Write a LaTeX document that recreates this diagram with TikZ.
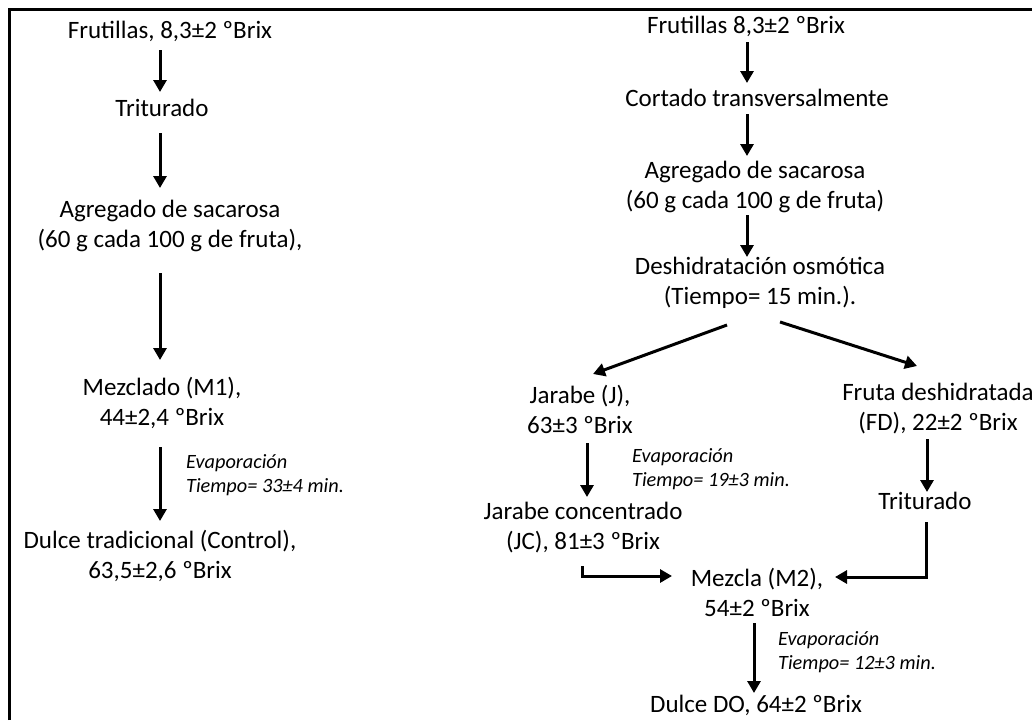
\documentclass[tikz,border=0pt]{standalone}
\usepackage{fontspec}
\setmainfont{Carlito}
\usetikzlibrary{arrows.meta,calc}

\tikzset{
  paso/.style={font=\fontsize{25}{30}\selectfont, align=center, inner sep=0pt},
  nota/.style={font=\fontsize{20.3}{24}\selectfont\itshape, align=left, anchor=west, inner sep=0pt},
  flecha/.style={line width=3pt, -{Triangle[length=12pt,width=13pt]}},
}

\begin{document}
\begin{tikzpicture}[x=1pt,y=-1pt]
    \useasboundingbox (0,0) rectangle (1032,720);
    % marco:
    \draw [line width=3pt] (9.5,720) -- (9.5,9.5) -- (1032,9.5);
    % dulce tradicional:
    \node [paso] (fl1) at (170,31) {Frutillas, 8,3±2 ºBrix};
    \node [paso] (tri1) at (162,108) {Triturado};
    \node [paso] (ag1) at (170,226) {Agregado de sacarosa\\(60 g cada 100 g de fruta),};
    \node [paso] (mez1) at (162,403) {Mezclado (M1),\\44±2,4 ºBrix};
    \node [paso] (dul1) at (160,556) {Dulce tradicional (Control),\\63,5±2,6 ºBrix};
    \node [nota] (ev1) at (186,475) {Evaporación\\Tiempo= 33±4 min.};
    \draw [flecha] ($(fl1)+(-10,19)$) -- ($(tri1)+(-2,-16)$);
    \draw [flecha] ($(tri1)+(-2,25)$) -- ($(ag1)+(-10,-38)$);
    \draw [flecha] ($(ag1)+(-10,47)$) -- ($(mez1)+(-2,-43)$);
    \draw [flecha] ($(mez1)+(-2,44)$) -- ($(dul1)+(0,-35)$);
    % dulce DO:
    \node [paso] (fr2) at (746,26) {Frutillas 8,3±2 ºBrix};
    \node [paso] (cor2) at (757,98) {Cortado transversalmente};
    \node [paso] (ag2) at (755,187) {Agregado de sacarosa\\(60 g cada 100 g de fruta)};
    \node [paso] (des2) at (760,283) {Deshidratación osmótica\\(Tiempo= 15 min.).};
    \draw [flecha] ($(fr2)+(1,16)$) -- ($(cor2)+(-10,-15)$);
    \draw [flecha] ($(cor2)+(-10,16)$) -- ($(ag2)+(-8,-31)$);
    \draw [flecha] ($(ag2)+(-8,28)$) -- ($(des2)+(-13,-26)$);
    % jarabe:
    \node [paso] (jar) at (580,409) {Jarabe (J),\\63±3 ºBrix};
    \node [paso] (jc) at (583,528) {Jarabe concentrado\\(JC), 81±3 ºBrix};
    \node [nota] (ev2) at (632,469) {Evaporación\\Tiempo= 19±3 min.};
    \draw [flecha] ($(des2)+(-33,42)$) -- ($(jar)+(13,-35)$);
    \draw [flecha] ($(jar)+(7,34)$) -- ($(jc)+(4,-31)$);
    % fruta:
    \node [paso] (fd) at (938,409) {Fruta deshidratada\\(FD), 22±2 ºBrix};
    \node [paso] (tri2) at (925,501) {Triturado};
    \draw [flecha] ($(des2)+(20,39)$) -- ($(fd)+(-21,-43)$);
    \draw [flecha] ($(fd)+(-11,30)$) -- ($(tri2)+(2,-9)$);
    % mezcla:
    \node [paso] (mez2) at (757,592) {Mezcla (M2),\\54±2 ºBrix};
    \node [paso] (dul2) at (756,705) {Dulce DO, 64±2 ºBrix};
    \node [nota] (ev3) at (778,652) {Evaporación\\Tiempo= 12±3 min.};
    \draw [flecha] ($(jc)+(-1,38)$) |- ($(mez2)+(-85,-16)$);
    \draw [flecha] ($(tri2)+(1,21)$) |- ($(mez2)+(78,-15)$);
    \draw [flecha] ($(mez2)+(-3,31)$) -- ($(dul2)+(-2,-12)$);
\end{tikzpicture}
\end{document}
